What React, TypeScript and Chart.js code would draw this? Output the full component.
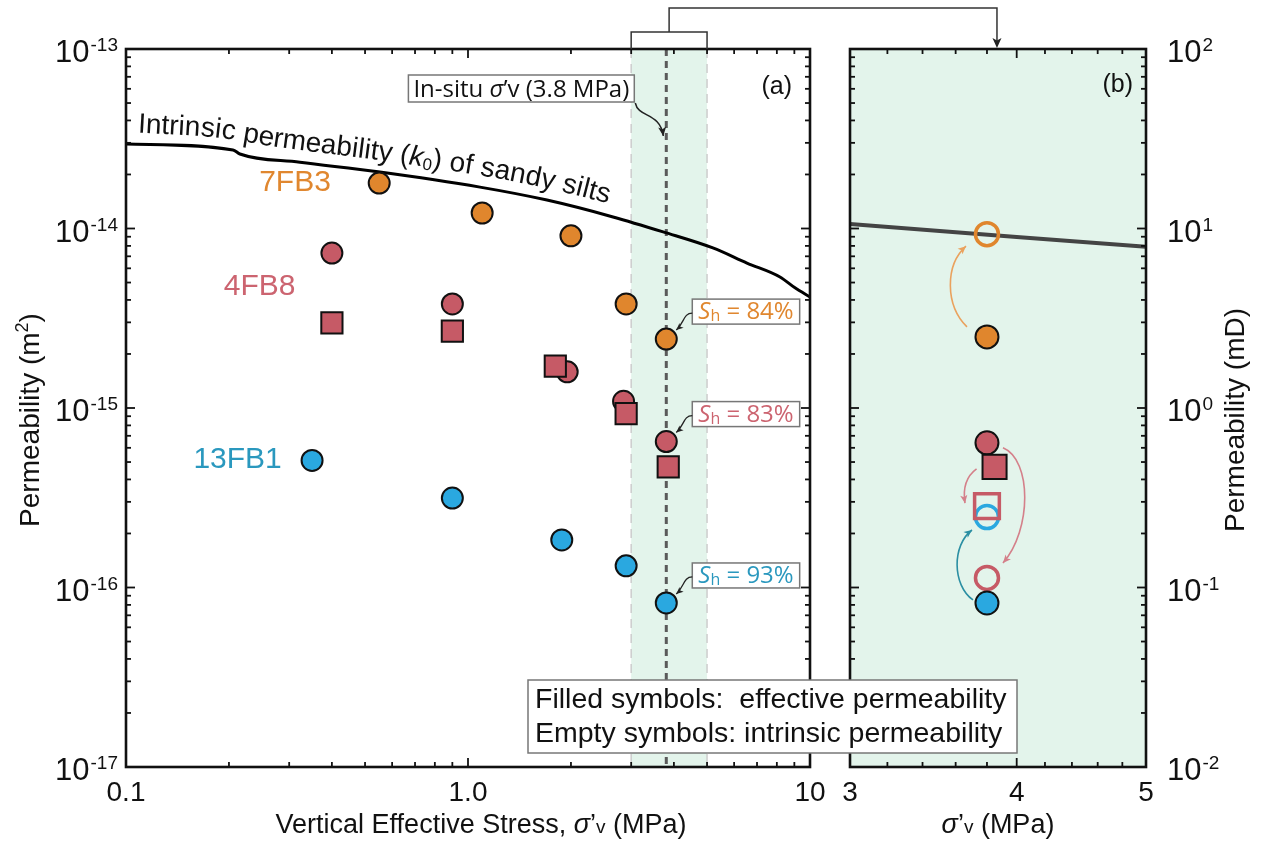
import React, { useEffect, useRef } from "react";
import { Chart, registerables } from "chart.js";

Chart.register(...registerables);

const W = 1268;
const H = 845;

// ===== Panel (a): permeability (m²) vs vertical effective stress (MPa) =====
const xTicksA = [0.1, 1, 10];
const xTickLabelsA = ["0.1", "1.0", "10"];
const yTicksA = [1e-17, 1e-16, 1e-15, 1e-14, 1e-13];
const yExpA = ["-17", "-16", "-15", "-14", "-13"];

// intrinsic permeability (k0) of sandy silts
const k0Stress = [0.1, 0.2055, 0.2153, 0.3225, 0.5456, 1.084, 1.702, 2.655, 3.72, 5.2, 6.54, 8.17, 9.04, 10];
const k0Perm = [2.96e-14, 2.74e-14, 2.6e-14, 2.34e-14, 2.07e-14, 1.7e-14, 1.44e-14, 1.16e-14, 9.57e-15, 7.79e-15, 6.42e-15, 5.37e-15, 4.67e-15, 4.15e-15];

// 7FB3 (orange circles)
const fb3Stress = [0.55, 1.1, 2.0, 2.9, 3.8];
const fb3Perm = [1.79e-14, 1.22e-14, 9.1e-15, 3.8e-15, 2.42e-15];
// 4FB8 (red circles)
const fb8CircStress = [0.4, 0.9, 1.95, 2.85, 3.8];
const fb8CircPerm = [7.3e-15, 3.8e-15, 1.59e-15, 1.09e-15, 6.5e-16];
// 4FB8 (red squares)
const fb8SqStress = [0.4, 0.9, 1.8, 2.9, 3.85];
const fb8SqPerm = [2.98e-15, 2.68e-15, 1.71e-15, 9.3e-16, 4.7e-16];
// 13FB1 (blue circles)
const fb1Stress = [0.35, 0.9, 1.88, 2.9, 3.8];
const fb1Perm = [5.1e-16, 3.15e-16, 1.84e-16, 1.32e-16, 8.2e-17];

const bandStress = [3, 5];
const insituStress = 3.8;
const shValues = ["84", "83", "93"];

// ===== Panel (b): permeability (mD) at in-situ stress =====
const xTicksB = [3, 4, 5];
const xTickLabelsB = ["3", "4", "5"];
const xMinorB = [3.2, 3.4, 3.6, 3.8, 4.2, 4.4, 4.6, 4.8];
const yTicksB = [0.01, 0.1, 1, 10, 100];
const yExpB = ["-2", "-1", "0", "1", "2"];

const k0BStress = [3, 4, 5];
const k0BPerm = [10.6, 8.97, 7.9];

const stressB = [3.8];
const sqStressB = [3.85];
const fb3EffB = [2.49];
const fb3IntB = [9.3];
const fb8CircEffB = [0.64];
const fb8CircIntB = [0.113];
const fb8SqEffB = [0.47];
const fb8SqIntB = [0.284];
const fb1EffB = [0.082];
const fb1IntB = [0.247];

// ===== styles =====
const ORANGE = "#E0862D";
const RED = "#C65A66";
const BLUE = "#2AA8E0";
const ORANGE_T = "#E0872F";
const RED_T = "#CC6470";
const BLUE_T = "#2A98BE";
const GREEN = "rgb(227,244,235)";
const FAM = "'Liberation Sans', Arial, Helvetica, sans-serif";
const FAM2 = "'Open Sans', 'Liberation Sans', sans-serif";
const fnt = (size: number, style = "", fam = FAM) => `${style ? style + " " : ""}${size}px ${fam}`;

type Part = { t: string; f: string; dy?: number; c?: string };

const pts = (xs: number[], ys: number[]) => xs.map((x, i) => ({ x, y: ys[i] }));
const minorLog = (dec: number[]) => dec.slice(0, -1).flatMap((d) => [2, 3, 4, 5, 6, 7, 8, 9].map((k) => k * d));

function partsWidth(ctx: CanvasRenderingContext2D, parts: Part[]) {
  let w = 0;
  for (const p of parts) {
    ctx.font = p.f;
    w += ctx.measureText(p.t).width;
  }
  return w;
}

function drawParts(ctx: CanvasRenderingContext2D, parts: Part[], x: number, y: number, align: string, color: string) {
  const w = partsWidth(ctx, parts);
  let cx = align === "left" ? x : align === "center" ? x - w / 2 : x - w;
  ctx.textAlign = "left";
  ctx.textBaseline = "alphabetic";
  for (const p of parts) {
    ctx.font = p.f;
    ctx.fillStyle = p.c || color;
    ctx.fillText(p.t, cx, y + (p.dy || 0));
    cx += ctx.measureText(p.t).width;
  }
  return w;
}

function seg(ctx: CanvasRenderingContext2D, x1: number, y1: number, x2: number, y2: number) {
  ctx.beginPath();
  ctx.moveTo(x1, y1);
  ctx.lineTo(x2, y2);
  ctx.stroke();
}

function arrowHead(ctx: CanvasRenderingContext2D, x: number, y: number, ang: number, size: number, color: string) {
  ctx.save();
  ctx.translate(x, y);
  ctx.rotate(ang);
  ctx.beginPath();
  ctx.moveTo(0, 0);
  ctx.lineTo(-size, -size * 0.45);
  ctx.lineTo(-size * 0.75, 0);
  ctx.lineTo(-size, size * 0.45);
  ctx.closePath();
  ctx.fillStyle = color;
  ctx.fill();
  ctx.restore();
}

function curveArrow(ctx: CanvasRenderingContext2D, p0: number[], c1: number[], c2: number[], p3: number[], color: string, lw: number, head: number) {
  ctx.save();
  ctx.setLineDash([]);
  ctx.strokeStyle = color;
  ctx.lineWidth = lw;
  ctx.beginPath();
  ctx.moveTo(p0[0], p0[1]);
  ctx.bezierCurveTo(c1[0], c1[1], c2[0], c2[1], p3[0], p3[1]);
  ctx.stroke();
  arrowHead(ctx, p3[0], p3[1], Math.atan2(p3[1] - c2[1], p3[0] - c2[0]), head, color);
  ctx.restore();
}

function frameTicks(chart: any, xMaj: number[], xMin: number[], yMaj: number[], yMin: number[]) {
  const { ctx, chartArea: a } = chart;
  const xs = chart.scales.x;
  const ys = chart.scales.y;
  ctx.save();
  ctx.setLineDash([]);
  ctx.strokeStyle = "#111";
  ctx.lineWidth = 1.8;
  const doX = (vals: number[], len: number) =>
    vals.forEach((v) => {
      const p = xs.getPixelForValue(v);
      seg(ctx, p, a.bottom, p, a.bottom - len);
      seg(ctx, p, a.top, p, a.top + len);
    });
  const doY = (vals: number[], len: number) =>
    vals.forEach((v) => {
      const p = ys.getPixelForValue(v);
      seg(ctx, a.left, p, a.left + len, p);
      seg(ctx, a.right, p, a.right - len, p);
    });
  doX(xMaj, 9);
  doX(xMin, 5);
  doY(yMaj, 9);
  doY(yMin, 5);
  ctx.lineWidth = 2.6;
  ctx.strokeRect(a.left, a.top, a.right - a.left, a.bottom - a.top);
  ctx.restore();
}

function drawYLabels(ctx: CanvasRenderingContext2D, scale: any, vals: number[], exps: string[], x: number, side: string) {
  vals.forEach((v, i) => {
    const py = scale.getPixelForValue(v);
    ctx.font = fnt(31);
    const wb = ctx.measureText("10").width;
    ctx.font = fnt(19);
    const ws = ctx.measureText(exps[i]).width;
    const x0 = side === "left" ? x - wb - ws - 1 : x;
    ctx.fillStyle = "#111";
    ctx.textAlign = "left";
    ctx.textBaseline = "alphabetic";
    ctx.font = fnt(31);
    ctx.fillText("10", x0, py + 13);
    ctx.font = fnt(19);
    ctx.fillText(exps[i], x0 + wb + 1, py + 2);
  });
}

function textOnCurve(ctx: CanvasRenderingContext2D, poly: { x: number; y: number }[], parts: Part[], startX: number, offset: number, color: string) {
  const L = [0];
  for (let i = 1; i < poly.length; i++) L.push(L[i - 1] + Math.hypot(poly[i].x - poly[i - 1].x, poly[i].y - poly[i - 1].y));
  const raw = (s: number) => {
    if (s <= 0) {
      const t = s / L[1];
      return { x: poly[0].x + (poly[1].x - poly[0].x) * t, y: poly[0].y + (poly[1].y - poly[0].y) * t };
    }
    for (let i = 1; i < poly.length; i++) {
      if (s <= L[i] || i === poly.length - 1) {
        const t = (s - L[i - 1]) / (L[i] - L[i - 1]);
        return { x: poly[i - 1].x + (poly[i].x - poly[i - 1].x) * t, y: poly[i - 1].y + (poly[i].y - poly[i - 1].y) * t };
      }
    }
    return poly[poly.length - 1];
  };
  // smoothed position (moving average along arc length)
  const at = (s: number) => {
    let x = 0;
    let y = 0;
    const n = 9;
    for (let k = -4; k <= 4; k++) {
      const q = raw(s + k * 7);
      x += q.x;
      y += q.y;
    }
    return { x: x / n, y: y / n };
  };
  let s = 0;
  for (let i = 1; i < poly.length; i++) {
    if (startX <= poly[i].x) {
      s = L[i - 1] + ((startX - poly[i - 1].x) / (poly[i].x - poly[i - 1].x)) * (L[i] - L[i - 1]);
      break;
    }
  }
  ctx.fillStyle = color;
  ctx.textAlign = "left";
  ctx.textBaseline = "alphabetic";
  for (const p of parts) {
    ctx.font = p.f;
    for (const ch of p.t) {
      const w = ctx.measureText(ch).width;
      const mid = s + w / 2;
      const q1 = at(mid - 18);
      const q2 = at(mid + 18);
      const ang = Math.atan2(q2.y - q1.y, q2.x - q1.x);
      const pm = at(mid);
      const cx = pm.x + Math.sin(ang) * offset;
      const cy = pm.y - Math.cos(ang) * offset;
      ctx.save();
      ctx.translate(cx, cy);
      ctx.rotate(ang);
      ctx.fillText(ch, -w / 2, p.dy || 0);
      ctx.restore();
      s += w;
    }
  }
}

const noGrid = { display: false };
const noBorder = { display: false };

export default function App() {
  const refA = useRef<HTMLCanvasElement>(null);
  const refB = useRef<HTMLCanvasElement>(null);

  useEffect(() => {
    const plugA = {
      id: "panelA",
      beforeDatasetsDraw(chart: any) {
        const { ctx, chartArea: a } = chart;
        const xs = chart.scales.x;
        const x3 = xs.getPixelForValue(bandStress[0]);
        const x5 = xs.getPixelForValue(bandStress[1]);
        const xi = xs.getPixelForValue(insituStress);
        ctx.save();
        ctx.fillStyle = GREEN;
        ctx.fillRect(x3, a.top, x5 - x3, a.bottom - a.top);
        ctx.strokeStyle = "#cdcdcd";
        ctx.lineWidth = 1.5;
        ctx.setLineDash([9, 6]);
        seg(ctx, x3, a.top, x3, a.bottom);
        seg(ctx, x5, a.top, x5, a.bottom);
        ctx.strokeStyle = "#5a5a5a";
        ctx.lineWidth = 3;
        ctx.setLineDash([7, 5]);
        seg(ctx, xi, a.top, xi, a.bottom);
        ctx.restore();
      },
      afterDraw(chart: any) {
        const { ctx, chartArea: a } = chart;
        const xs = chart.scales.x;
        const ys = chart.scales.y;
        frameTicks(chart, xTicksA, minorLog(xTicksA), yTicksA, minorLog(yTicksA));
        ctx.save();
        drawYLabels(ctx, ys, yTicksA, yExpA, a.left - 8, "left");

        // y title
        ctx.save();
        ctx.translate(39, (a.top + a.bottom) / 2 + 12);
        ctx.rotate(-Math.PI / 2);
        drawParts(ctx, [{ t: "Permeability (m", f: fnt(28) }, { t: "2", f: fnt(18), dy: -11 }, { t: ")", f: fnt(28) }], 0, 0, "center", "#111");
        ctx.restore();

        // x title
        drawParts(
          ctx,
          [
            { t: "Vertical Effective Stress, ", f: fnt(27) },
            { t: "σ", f: fnt(27, "italic") },
            { t: "’", f: fnt(27) },
            { t: "v", f: fnt(19) },
            { t: " (MPa)", f: fnt(27) },
          ],
          (a.left + a.right) / 2 + 13,
          833,
          "center",
          "#111"
        );

        // panel tag
        ctx.font = fnt(25);
        ctx.fillStyle = "#111";
        ctx.textAlign = "right";
        ctx.textBaseline = "alphabetic";
        ctx.fillText("(a)", a.right - 18, a.top + 45);

        // group labels
        ctx.font = fnt(30);
        ctx.textAlign = "center";
        ctx.textBaseline = "middle";
        ctx.fillStyle = ORANGE_T;
        ctx.fillText("7FB3", xs.getPixelForValue(0.312), ys.getPixelForValue(1.79e-14));
        ctx.fillStyle = RED_T;
        ctx.fillText("4FB8", xs.getPixelForValue(0.246), ys.getPixelForValue(4.75e-15));
        ctx.fillStyle = BLUE_T;
        ctx.fillText("13FB1", xs.getPixelForValue(0.212), ys.getPixelForValue(5.13e-16));

        // label along intrinsic curve
        const poly = k0Stress.map((x, i) => ({ x: xs.getPixelForValue(x), y: ys.getPixelForValue(k0Perm[i]) }));
        textOnCurve(
          ctx,
          poly,
          [
            { t: "Intrinsic permeability (", f: fnt(28) },
            { t: "k", f: fnt(28, "italic") },
            { t: "0", f: fnt(17), dy: 3 },
            { t: ") of sandy silts", f: fnt(28) },
          ],
          a.left + 11,
          12,
          "#111"
        );

        // in-situ box
        const xi = xs.getPixelForValue(insituStress);
        const ip: Part[] = [
          { t: "In-situ ", f: fnt(24, "", FAM2) },
          { t: "σ", f: fnt(24, "italic", FAM2) },
          { t: "’v (3.8 MPa)", f: fnt(24, "", FAM2) },
        ];
        const tw = partsWidth(ctx, ip);
        const bx1 = xi - 32;
        const bx0 = bx1 - tw - 10;
        const by0 = a.top + 26;
        const bh = 27;
        ctx.fillStyle = "#fff";
        ctx.fillRect(bx0, by0, bx1 - bx0, bh);
        ctx.strokeStyle = "#777";
        ctx.lineWidth = 1.5;
        ctx.strokeRect(bx0, by0, bx1 - bx0, bh);
        drawParts(ctx, ip, (bx0 + bx1) / 2, by0 + 22, "center", "#111");
        curveArrow(ctx, [bx1 + 1, by0 + bh + 1], [bx1 + 4, by0 + bh + 16], [xi - 6, by0 + bh + 10], [xi - 3, by0 + bh + 34], "#222", 1.5, 9);

        // Sh boxes
        const shSeries: [number[], number[], string][] = [
          [fb3Stress, fb3Perm, ORANGE_T],
          [fb8CircStress, fb8CircPerm, RED_T],
          [fb1Stress, fb1Perm, BLUE_T],
        ];
        shSeries.forEach(([sx, sy, col], k) => {
          const i = sx.length - 1;
          const px = xs.getPixelForValue(sx[i]);
          const py = ys.getPixelForValue(sy[i]);
          const bx = px + 26;
          const by = py - 40;
          const parts: Part[] = [
            { t: "S", f: fnt(24, "italic", FAM2) },
            { t: "h", f: fnt(16, "", FAM2), dy: 2 },
            { t: " = " + shValues[k] + "%", f: fnt(24, "", FAM2) },
          ];
          const w = partsWidth(ctx, parts) + 12;
          ctx.fillStyle = "#fff";
          ctx.fillRect(bx, by, w, 25);
          ctx.strokeStyle = "#777";
          ctx.lineWidth = 1.5;
          ctx.strokeRect(bx, by, w, 25);
          drawParts(ctx, parts, bx + 6, by + 20, "left", col);
          curveArrow(ctx, [bx, by + 14], [bx - 9, by + 14], [bx - 8, by + 24], [px + 10, py - 9], "#222", 1.3, 7);
        });
        ctx.restore();
      },
    };

    const chartA = new Chart(refA.current as HTMLCanvasElement, {
      type: "scatter",
      data: {
        datasets: [
          {
            label: "k0",
            data: pts(k0Stress, k0Perm),
            showLine: true,
            borderColor: "#000",
            borderWidth: 3,
            pointRadius: 0,
            cubicInterpolationMode: "monotone",
            order: 10,
          },
          { label: "7FB3", data: pts(fb3Stress, fb3Perm), pointStyle: "circle", pointRadius: 10.5, backgroundColor: ORANGE, borderColor: "#111", borderWidth: 2, order: 4 },
          { label: "4FB8 c", data: pts(fb8CircStress, fb8CircPerm), pointStyle: "circle", pointRadius: 10.5, backgroundColor: RED, borderColor: "#111", borderWidth: 2, order: 3 },
          { label: "4FB8 s", data: pts(fb8SqStress, fb8SqPerm), pointStyle: "rect", pointRadius: 15, backgroundColor: RED, borderColor: "#111", borderWidth: 2, order: 2 },
          { label: "13FB1", data: pts(fb1Stress, fb1Perm), pointStyle: "circle", pointRadius: 10.5, backgroundColor: BLUE, borderColor: "#111", borderWidth: 2, order: 1 },
        ],
      } as any,
      options: {
        responsive: false,
        animation: false,
        devicePixelRatio: 1,
        events: [],
        layout: { padding: { left: 0, top: 49, right: W - 810, bottom: 0 } },
        plugins: { legend: { display: false }, tooltip: { enabled: false } },
        scales: {
          x: {
            type: "logarithmic",
            position: "bottom",
            min: 0.1,
            max: 10,
            afterBuildTicks: (s: any) => {
              s.ticks = xTicksA.map((v) => ({ value: v }));
            },
            afterFit: (s: any) => {
              s.height = H - 767;
            },
            grid: noGrid,
            border: noBorder,
            ticks: {
              callback: (_v: any, i: number) => xTickLabelsA[i],
              font: { family: FAM, size: 28 },
              color: "#111",
              padding: 1,
              maxRotation: 0,
              autoSkip: false,
            },
          },
          y: {
            type: "logarithmic",
            position: "left",
            min: 1e-17,
            max: 1e-13,
            afterBuildTicks: (s: any) => {
              s.ticks = yTicksA.map((v) => ({ value: v }));
            },
            afterFit: (s: any) => {
              s.width = 126;
            },
            grid: noGrid,
            border: noBorder,
            ticks: { display: false },
          },
        },
      } as any,
      plugins: [plugA],
    });

    const plugB = {
      id: "panelB",
      beforeDatasetsDraw(chart: any) {
        const { ctx, chartArea: a } = chart;
        ctx.save();
        ctx.fillStyle = GREEN;
        ctx.fillRect(a.left, a.top, a.right - a.left, a.bottom - a.top);
        ctx.restore();
      },
      afterDraw(chart: any) {
        const { ctx, chartArea: a } = chart;
        const xs = chart.scales.x;
        const ys = chart.scales.y;
        frameTicks(chart, xTicksB, xMinorB, yTicksB, minorLog(yTicksB));
        ctx.save();
        drawYLabels(ctx, ys, yTicksB, yExpB, a.right + 21, "right");

        // right title
        ctx.save();
        ctx.translate(a.right + 98, (a.top + a.bottom) / 2 + 12);
        ctx.rotate(-Math.PI / 2);
        drawParts(ctx, [{ t: "Permeability (mD)", f: fnt(28) }], 0, 0, "center", "#111");
        ctx.restore();

        // x title
        drawParts(
          ctx,
          [
            { t: "σ", f: fnt(27, "italic") },
            { t: "’", f: fnt(27) },
            { t: "v", f: fnt(19) },
            { t: " (MPa)", f: fnt(27) },
          ],
          (a.left + a.right) / 2,
          833,
          "center",
          "#111"
        );

        ctx.font = fnt(25);
        ctx.fillStyle = "#111";
        ctx.textAlign = "right";
        ctx.textBaseline = "alphabetic";
        ctx.fillText("(b)", a.right - 13, a.top + 43);

        // arrows linking effective -> intrinsic
        const X = (v: number) => xs.getPixelForValue(v);
        const Y = (v: number) => ys.getPixelForValue(v);
        const of = [X(stressB[0]), Y(fb3EffB[0])];
        const oo = [X(stressB[0]), Y(fb3IntB[0])];
        curveArrow(ctx, [of[0] - 20, of[1] - 10], [of[0] - 42, of[1] - 32], [oo[0] - 42, oo[1] + 31], [oo[0] - 21, oo[1] + 12], "#EAA25E", 1.6, 8);
        const fsq = [X(sqStressB[0]), Y(fb8SqEffB[0])];
        const osq = [X(stressB[0]), Y(fb8SqIntB[0])];
        curveArrow(ctx, [fsq[0] - 18, fsq[1] + 2], [fsq[0] - 29, fsq[1] + 10], [osq[0] - 24, osq[1] - 16], [osq[0] - 22, osq[1] - 3], "#D4808A", 1.6, 8);
        const fc = [X(stressB[0]), Y(fb8CircEffB[0])];
        const oc = [X(stressB[0]), Y(fb8CircIntB[0])];
        curveArrow(ctx, [fc[0] + 16, fc[1] + 5], [fc[0] + 45, fc[1] + 17], [oc[0] + 45, oc[1] - 48], [oc[0] + 16, oc[1] - 15], "#D4808A", 1.6, 8);
        const fb = [X(stressB[0]), Y(fb1EffB[0])];
        const ob = [X(stressB[0]), Y(fb1IntB[0])];
        curveArrow(ctx, [fb[0] - 14, fb[1] - 3], [fb[0] - 35, fb[1] - 18], [ob[0] - 35, ob[1] + 28], [ob[0] - 15, ob[1] + 13], "#2B8FA3", 1.6, 8);

        // legend box (spans both panels)
        const lx = 528;
        const ly = 680;
        ctx.fillStyle = "#fff";
        ctx.fillRect(lx, ly, 489, 73);
        ctx.strokeStyle = "#777";
        ctx.lineWidth = 1.5;
        ctx.strokeRect(lx, ly, 489, 73);
        ctx.font = fnt(28.5);
        ctx.fillStyle = "#111";
        ctx.textAlign = "left";
        ctx.textBaseline = "alphabetic";
        ctx.fillText("Filled symbols:  effective permeability", lx + 7, ly + 28);
        ctx.fillText("Empty symbols: intrinsic permeability", lx + 7, ly + 62);

        // bracket linking the band in (a) to panel (b)
        const xa = chartA.scales.x as any;
        const a3 = xa.getPixelForValue(bandStress[0]);
        const a5 = xa.getPixelForValue(bandStress[1]);
        const topA = chartA.chartArea.top;
        const xb = X(insituStress) + 10;
        ctx.strokeStyle = "#333";
        ctx.lineWidth = 1.5;
        ctx.setLineDash([]);
        ctx.beginPath();
        ctx.moveTo(a3, topA);
        ctx.lineTo(a3, topA - 17);
        ctx.lineTo(a5, topA - 17);
        ctx.lineTo(a5, topA);
        ctx.stroke();
        const mid = (a3 + a5) / 2;
        ctx.beginPath();
        ctx.moveTo(mid, topA - 17);
        ctx.lineTo(mid, 8);
        ctx.lineTo(xb, 8);
        ctx.lineTo(xb, a.top - 8);
        ctx.stroke();
        arrowHead(ctx, xb, a.top - 1, Math.PI / 2, 10, "#222");
        ctx.restore();
      },
    };

    const chartB = new Chart(refB.current as HTMLCanvasElement, {
      type: "scatter",
      data: {
        datasets: [
          { label: "k0 b", data: pts(k0BStress, k0BPerm), showLine: true, borderColor: "#444", borderWidth: 4, pointRadius: 0, order: 10 },
          { label: "7FB3 int", data: pts(stressB, fb3IntB), pointStyle: "circle", pointRadius: 11.5, backgroundColor: "rgba(0,0,0,0)", borderColor: ORANGE, borderWidth: 3.5, order: 8 },
          { label: "4FB8 c int", data: pts(stressB, fb8CircIntB), pointStyle: "circle", pointRadius: 11.5, backgroundColor: "rgba(0,0,0,0)", borderColor: RED, borderWidth: 3.5, order: 7 },
          { label: "13FB1 int", data: pts(stressB, fb1IntB), pointStyle: "circle", pointRadius: 11.5, backgroundColor: "rgba(0,0,0,0)", borderColor: BLUE, borderWidth: 3.5, order: 6 },
          { label: "4FB8 s int", data: pts(stressB, fb8SqIntB), pointStyle: "rect", pointRadius: 17.5, backgroundColor: "rgba(0,0,0,0)", borderColor: RED, borderWidth: 3.5, order: 5 },
          { label: "7FB3 eff", data: pts(stressB, fb3EffB), pointStyle: "circle", pointRadius: 11.5, backgroundColor: ORANGE, borderColor: "#111", borderWidth: 2, order: 4 },
          { label: "4FB8 c eff", data: pts(stressB, fb8CircEffB), pointStyle: "circle", pointRadius: 11.5, backgroundColor: RED, borderColor: "#111", borderWidth: 2, order: 3 },
          { label: "4FB8 s eff", data: pts(sqStressB, fb8SqEffB), pointStyle: "rect", pointRadius: 17, backgroundColor: RED, borderColor: "#111", borderWidth: 2, order: 2 },
          { label: "13FB1 eff", data: pts(stressB, fb1EffB), pointStyle: "circle", pointRadius: 11.5, backgroundColor: BLUE, borderColor: "#111", borderWidth: 2, order: 1 },
        ],
      } as any,
      options: {
        responsive: false,
        animation: false,
        devicePixelRatio: 1,
        events: [],
        layout: { padding: { left: 850, top: 49, right: 0, bottom: 0 } },
        plugins: { legend: { display: false }, tooltip: { enabled: false } },
        scales: {
          x: {
            type: "logarithmic",
            position: "bottom",
            min: 3,
            max: 5,
            afterBuildTicks: (s: any) => {
              s.ticks = xTicksB.map((v) => ({ value: v }));
            },
            afterFit: (s: any) => {
              s.height = H - 767;
            },
            grid: noGrid,
            border: noBorder,
            ticks: {
              callback: (_v: any, i: number) => xTickLabelsB[i],
              font: { family: FAM, size: 28 },
              color: "#111",
              padding: 1,
              maxRotation: 0,
              autoSkip: false,
            },
          },
          y: {
            type: "logarithmic",
            position: "right",
            min: 0.01,
            max: 100,
            afterBuildTicks: (s: any) => {
              s.ticks = yTicksB.map((v) => ({ value: v }));
            },
            afterFit: (s: any) => {
              s.width = W - 1146;
            },
            grid: noGrid,
            border: noBorder,
            ticks: { display: false },
          },
        },
      } as any,
      plugins: [plugB],
    });

    return () => {
      chartB.destroy();
      chartA.destroy();
    };
  }, []);

  const cs: React.CSSProperties = { position: "absolute", left: 0, top: 0, width: W, height: H };
  return (
    <div style={{ position: "absolute", left: 0, top: 0, width: W, height: H, background: "#fff" }}>
      <canvas ref={refA} width={W} height={H} style={cs} />
      <canvas ref={refB} width={W} height={H} style={cs} />
    </div>
  );
}
